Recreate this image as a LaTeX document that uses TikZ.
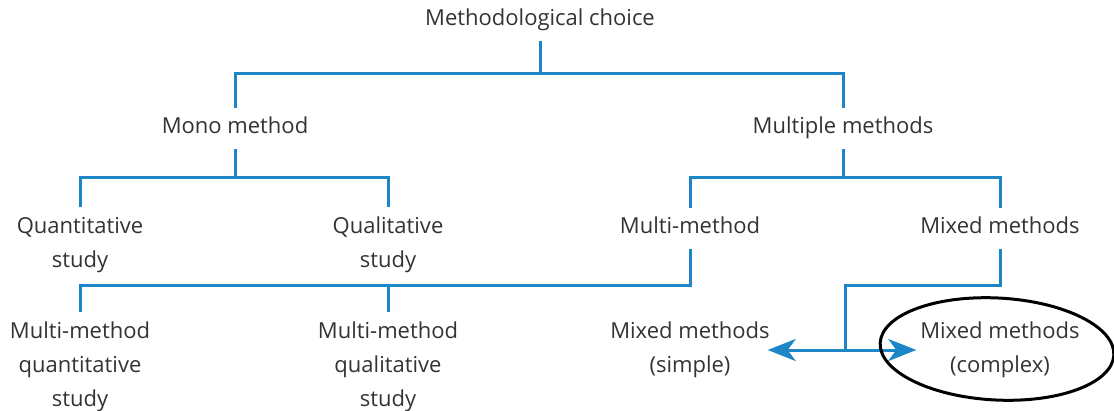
\documentclass[tikz,border=0pt]{standalone}
\usepackage{fontspec}
\setmainfont{Open Sans}
\usetikzlibrary{arrows.meta}
\definecolor{linkblue}{HTML}{1C86C6}
\definecolor{labelgray}{HTML}{333333}
\begin{document}
\begin{tikzpicture}[x=1pt,y=-1pt,
  label/.style={text=labelgray,font=\fontsize{22}{34}\selectfont,align=center,
    inner sep=0pt,outer xsep=0pt,outer ysep=10pt},
  oneline/.style={label,text height=16pt,text depth=5pt},
  conn/.style={draw=linkblue,line width=3pt},
  tip/.style={-{Stealth[length=28pt,width=22pt,inset=8pt]}},
  ring/.style={draw=black,line width=3pt}]
\useasboundingbox (0,0) rectangle (1114,410);

% labels
\node[oneline] (top)      at (540,20)  {Methodological choice};
\node[oneline] (mono)     at (235,128) {Mono method};
\node[oneline] (multiple) at (843,128) {Multiple methods};
\node[label]   (quant)    at (80,245)  {Quantitative\\study};
\node[label]   (qual)     at (388,245) {Qualitative\\study};
\node[oneline] (multi)    at (690,228) {Multi-method};
\node[oneline] (mixed)    at (1000,228) {Mixed methods};
\node[label]   (mmquant)  at (80,367)  {Multi-method\\quantitative\\study};
\node[label]   (mmqual)   at (388,367) {Multi-method\\qualitative\\study};
\node[label]   (simple)   at (690,350) {Mixed methods\\(simple)};
\node[label]   (complex)  at (1000,350) {Mixed methods\\(complex)};

% heights of the horizontal bars and the split point
\coordinate (bar1) at (0,73);
\coordinate (bar2) at (0,177);
\coordinate (bar3) at (0,285);
\coordinate (split) at (845,350);

% first level
\draw[conn] (top.south) -- (top.south |- bar1);
\draw[conn] (mono.north) -- (mono.north |- bar1) -- (multiple.north |- bar1) -- (multiple.north);

% mono method branch
\draw[conn] (mono.south) -- (mono.south |- bar2);
\draw[conn] (quant.north) -- (quant.north |- bar2) -- (qual.north |- bar2) -- (qual.north);

% multiple methods branch
\draw[conn] (multiple.south) -- (multiple.south |- bar2);
\draw[conn] (multi.north) -- (multi.north |- bar2) -- (mixed.north |- bar2) -- (mixed.north);

% multi-method branch
\draw[conn] (multi.south) -- (multi.south |- bar3) -- (mmquant.north |- bar3) -- (mmquant.north);
\draw[conn] (mmqual.north) -- (mmqual.north |- bar3);

% mixed methods branch
\draw[conn] (mixed.south) -- (mixed.south |- bar3) -- (split |- bar3) -- (split);
\draw[conn,tip] (split) -- ([xshift=-2pt]simple.east |- split);
\draw[conn,tip] (split) -- ([xshift=-4pt]complex.west |- split);

% highlight
\draw[ring,rotate around={-3:(997,349)}] (997,349) ellipse [x radius=117, y radius=51];
\end{tikzpicture}
\end{document}
